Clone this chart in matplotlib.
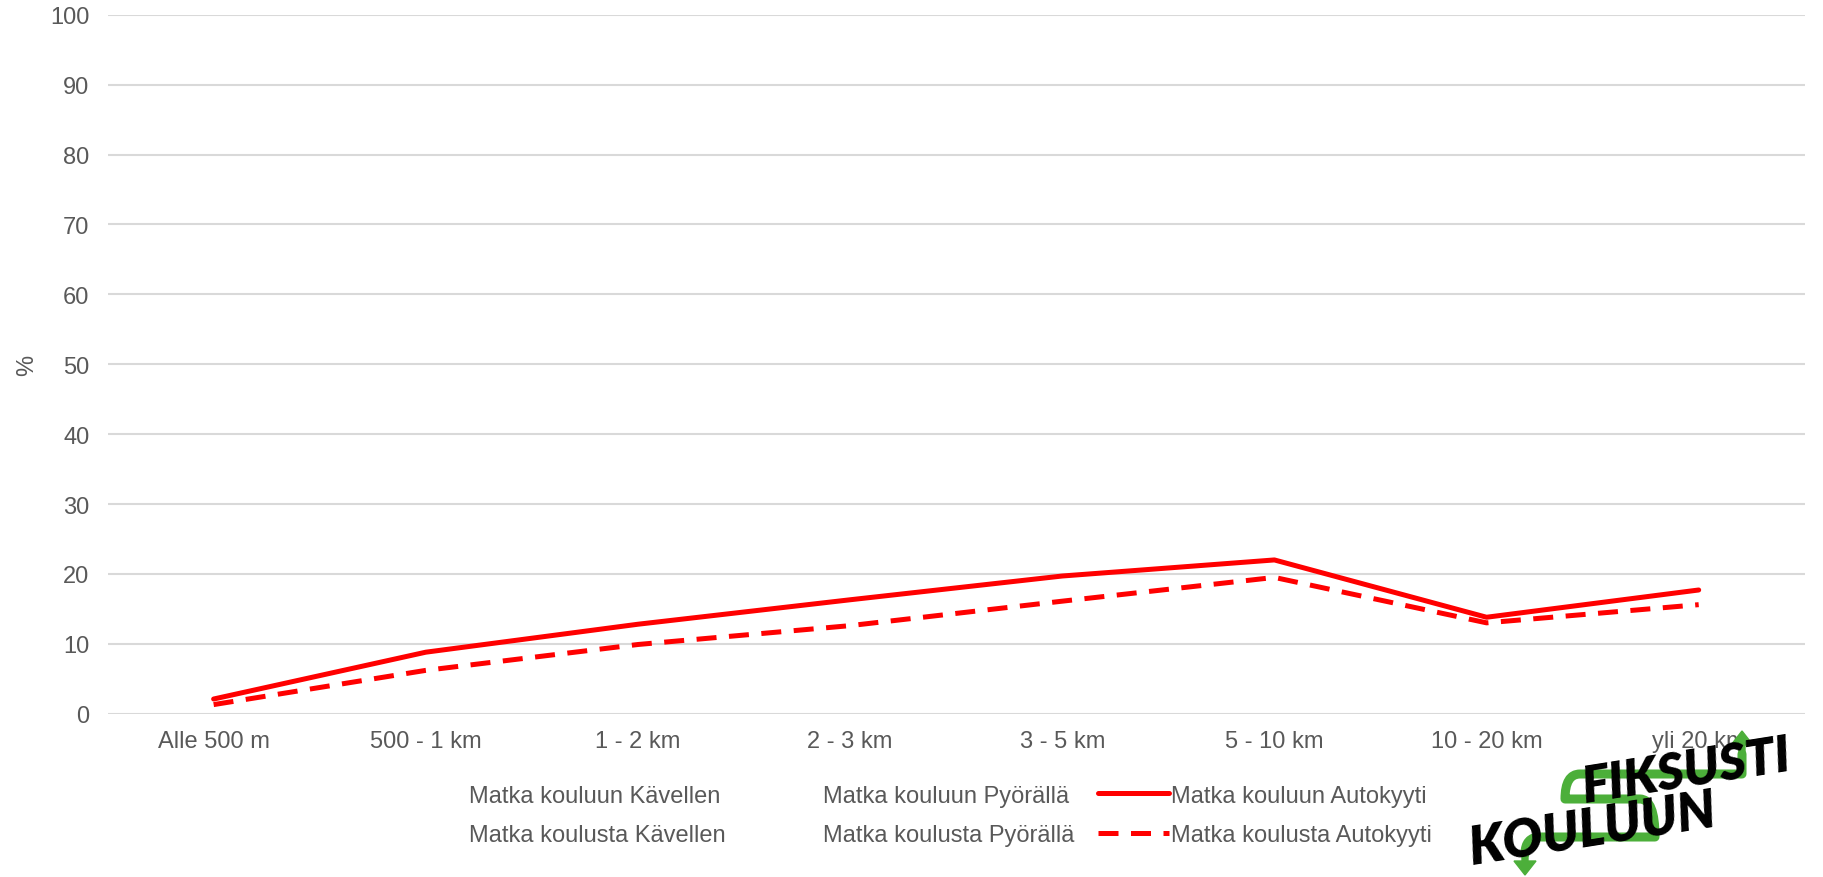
import matplotlib
matplotlib.use("Agg")
import matplotlib.pyplot as plt
from matplotlib.lines import Line2D
from matplotlib.path import Path
from matplotlib.patches import PathPatch, FancyArrow

plt.rcParams['font.family'] = ['Liberation Sans', 'DejaVu Sans']

# data
categories = ['Alle 500 m', '500 - 1 km', '1 - 2 km', '2 - 3 km',
              '3 - 5 km', '5 - 10 km', '10 - 20 km', 'yli 20 km']
kouluun_autokyyti = [2.1, 8.8, 12.8, 16.3, 19.7, 22.0, 13.8, 17.7]
koulusta_autokyyti = [1.3, 6.2, 9.9, 12.6, 16.1, 19.5, 13.0, 15.6]
series_labels = ['Matka kouluun Kävellen', 'Matka koulusta Kävellen',
                 'Matka kouluun Pyörällä', 'Matka koulusta Pyörällä',
                 'Matka kouluun Autokyyti', 'Matka koulusta Autokyyti']
yticks = list(range(0, 101, 10))

grey = '#595959'
red = '#FF0000'
green = '#4CAF3A'
fs = 17

fig = plt.figure(figsize=(18.23, 8.78), dpi=100)
ax = fig.add_axes([0.059, 0.186, 0.931, 0.796])

x = list(range(len(categories)))
l1, = ax.plot(x, kouluun_autokyyti, color=red, lw=3.6, solid_capstyle='round')
l2, = ax.plot(x, koulusta_autokyyti, color=red, lw=3.6, dashes=(4, 2.5))

ax.set_xlim(-0.5, len(categories) - 0.5)
ax.set_ylim(0, 100)
ax.set_yticks(yticks)
ax.set_xticks(x)
ax.set_xticklabels(categories)
ax.grid(axis='y', color='#D9D9D9', lw=1.5)
ax.set_axisbelow(True)
for s in ax.spines.values():
    s.set_visible(False)
ax.tick_params(length=0, labelsize=fs, labelcolor=grey)
ax.tick_params(axis='x', pad=12)
ax.tick_params(axis='y', pad=13)
ax.set_ylabel('%', fontsize=fs, color=grey, labelpad=9)

# Kävellen and Pyörällä series show no visible line in the original
blank = Line2D([], [], color='none')
handles = [blank, blank, blank, blank, l1, l2]
leg = ax.legend(handles, series_labels, ncol=3, loc='upper center',
                bbox_to_anchor=(0.475, -0.071), frameon=False, fontsize=fs,
                labelcolor=grey, handlelength=3.0, handletextpad=0.1,
                columnspacing=1.02, labelspacing=0.75)

# logo: FIKSUSTI KOULUUN with green route
verts = [(1742, 755), (1742, 775), (1742, 775), (1720, 775),
         (1580, 775), (1565, 775), (1565, 800), (1580, 800),
         (1640, 800), (1655, 800), (1655, 838), (1640, 838),
         (1540, 838), (1525, 838), (1525, 855)]
codes = [Path.MOVETO, Path.LINETO, Path.CURVE3, Path.CURVE3,
         Path.LINETO, Path.CURVE3, Path.CURVE3, Path.CURVE3,
         Path.LINETO, Path.CURVE3, Path.CURVE3, Path.CURVE3,
         Path.LINETO, Path.CURVE3, Path.CURVE3]
W, H = 1823, 878
fverts = [(vx / W, 1 - vy / H) for vx, vy in verts]
fig.patches.append(PathPatch(Path(fverts, codes), transform=fig.transFigure,
                             fill=False, edgecolor=green, lw=6.5,
                             capstyle='round', joinstyle='round'))
fig.patches.append(FancyArrow(1742 / W, 1 - 762 / H, 0, 30 / H,
                              width=6 / W, head_width=22 / W, head_length=14 / H,
                              length_includes_head=True, transform=fig.transFigure,
                              color=green))
fig.patches.append(FancyArrow(1525 / W, 1 - 850 / H, 0, -26 / H,
                              width=6 / W, head_width=22 / W, head_length=14 / H,
                              length_includes_head=True, transform=fig.transFigure,
                              color=green))
fig.text(1686 / W, 1 - 772 / H, 'FIKSUSTI', fontsize=37, fontweight='heavy',
         style='italic', family=['Lato', 'DejaVu Sans'], color='black',
         ha='center', va='center', rotation=9)
fig.text(1592 / W, 1 - 830 / H, 'KOULUUN', fontsize=38, fontweight='heavy',
         style='italic', family=['Lato', 'DejaVu Sans'], color='black',
         ha='center', va='center', rotation=9)

fig.savefig('out.png', dpi=100)
